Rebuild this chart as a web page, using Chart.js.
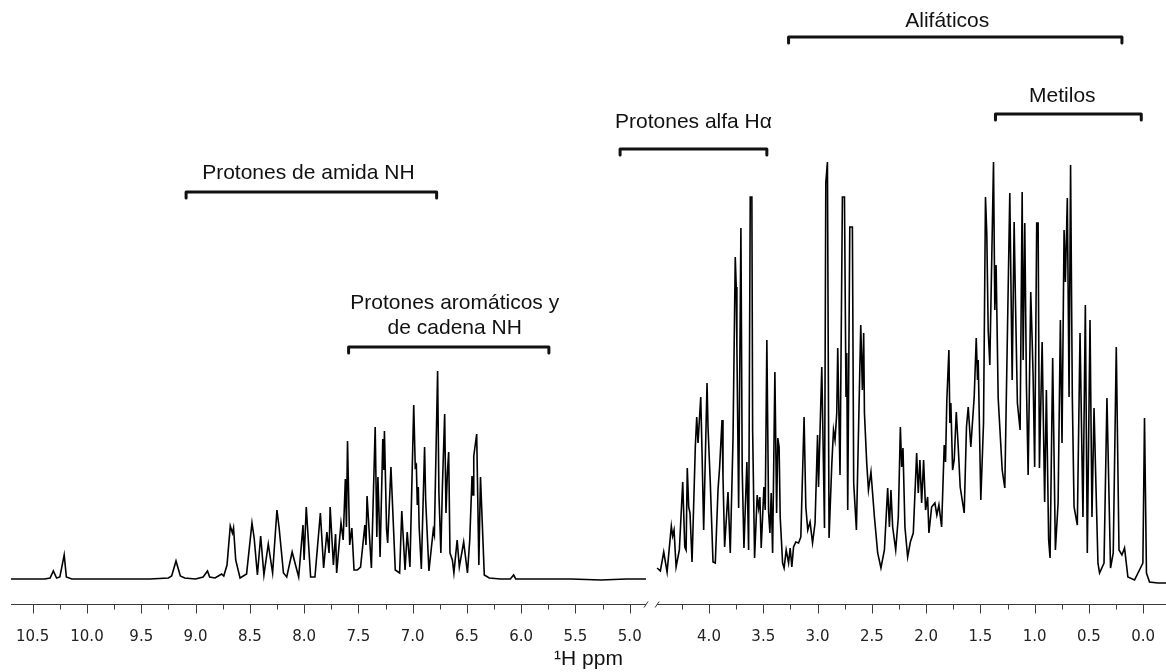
<!DOCTYPE html>
<html>
<head>
<meta charset="utf-8">
<script src="https://cdn.jsdelivr.net/npm/chart.js@4.4.1/dist/chart.umd.min.js"></script>
<style>
  html, body { margin: 0; background: #ffffff; }
  #wrap { width: 1166px; height: 672px; }
</style>
</head>
<body>
<div id="wrap"><canvas id="nmrChart"></canvas></div>
<script>
// low field part of the spectrum (left of the axis break), ppm / intensity
const lowFieldPpm = [
  10.70, 10.53, 10.39, 10.34, 10.31, 10.28, 10.25, 10.21, 10.19, 10.14, 9.97, 9.79, 9.60, 9.42,
  9.25, 9.22, 9.18, 9.14, 9.10, 9.00, 8.93, 8.89, 8.87, 8.82, 8.79, 8.76, 8.74, 8.71, 8.68, 8.66,
  8.65, 8.63, 8.59, 8.53, 8.48, 8.46, 8.43, 8.40, 8.37, 8.33, 8.29, 8.25, 8.23, 8.19, 8.16, 8.11,
  8.05, 8.01, 8.00, 7.98, 7.94, 7.90, 7.85, 7.82, 7.79, 7.77, 7.76, 7.73, 7.71, 7.70, 7.66, 7.64,
  7.62, 7.61, 7.60, 7.58, 7.56, 7.54, 7.51, 7.48, 7.44, 7.43, 7.42, 7.38, 7.345, 7.33, 7.32, 7.31,
  7.30, 7.275, 7.265, 7.26, 7.24, 7.23, 7.20, 7.16, 7.12, 7.10, 7.07, 7.05, 7.025, 6.99, 6.976,
  6.966, 6.957, 6.948, 6.94, 6.92, 6.89, 6.88, 6.85, 6.81, 6.80, 6.77, 6.758, 6.74, 6.726, 6.705,
  6.693, 6.68, 6.668, 6.656, 6.634, 6.62, 6.59, 6.57, 6.53, 6.495, 6.474, 6.453, 6.444, 6.437,
  6.41, 6.39, 6.375, 6.34, 6.294, 6.19, 6.10, 6.07, 6.05, 5.82, 5.54, 5.265, 5.03, 4.85
];
const lowFieldInt = [
  1, 1, 1, 2, 9, 2, 3, 25, 3, 1, 1, 1, 1, 1,
  2, 4, 19, 4, 2, 1, 3, 9, 3, 2, 4, 6, 4, 15, 54, 47,
  52, 20, 2, 6, 57, 42, 5, 44, 5, 36, 7, 70, 52, 7, 3, 28,
  3, 55, 20, 73, 3, 3, 67, 12, 48, 27, 73, 15, 46, 7, 57, 40,
  101, 53, 139, 35, 52, 10, 10, 13, 55, 35, 84, 12, 153, 43, 103, 67,
  23, 141, 110, 149, 50, 37, 113, 10, 7, 69, 10, 48, 13, 175, 113,
  115, 75, 93, 53, 11, 133, 80, 9, 50, 45, 209, 87, 27, 93, 166,
  67, 107, 128, 27, 20, 7, 40, 13, 38, 7, 40, 104, 85, 124,
  146, 15, 103, 5, 2, 1, 1, 5, 1, 1, 1, 0, 1, 1
];

// high field part of the spectrum (right of the axis break)
const highFieldPpm = [
  4.478, 4.448, 4.417, 4.386, 4.347, 4.335, 4.322, 4.303, 4.273, 4.242, 4.223, 4.211, 4.200, 4.187,
  4.175, 4.156, 4.126, 4.113, 4.101, 4.076, 4.064, 4.049, 4.018, 4.009, 3.988, 3.963, 3.942, 3.917,
  3.902, 3.880, 3.871, 3.856, 3.825, 3.804, 3.779, 3.758, 3.749, 3.743, 3.727, 3.706, 3.694, 3.678,
  3.651, 3.635, 3.620, 3.605, 3.598, 3.580, 3.556, 3.543, 3.531, 3.519, 3.494, 3.482, 3.467, 3.451,
  3.439, 3.427, 3.414, 3.393, 3.377, 3.366, 3.354, 3.344, 3.322, 3.308, 3.289, 3.267, 3.252, 3.237,
  3.221, 3.200, 3.175, 3.154, 3.124, 3.108, 3.090, 3.069, 3.046, 3.023, 3.000, 2.991, 2.961, 2.949,
  2.936, 2.924, 2.909, 2.894, 2.869, 2.853, 2.839, 2.823, 2.814, 2.793, 2.771, 2.752, 2.738, 2.731,
  2.722, 2.703, 2.679, 2.667, 2.642, 2.602, 2.587, 2.575, 2.568, 2.547, 2.531, 2.508, 2.476, 2.446,
  2.416, 2.384, 2.354, 2.338, 2.324, 2.308, 2.280, 2.256, 2.237, 2.225, 2.213, 2.195, 2.170, 2.145,
  2.118, 2.087, 2.072, 2.057, 2.041, 2.023, 2.005, 1.986, 1.974, 1.949, 1.919, 1.901, 1.882, 1.857,
  1.833, 1.821, 1.809, 1.790, 1.781, 1.772, 1.756, 1.741, 1.722, 1.704, 1.686, 1.649, 1.628, 1.612,
  1.588, 1.557, 1.538, 1.526, 1.520, 1.496, 1.471, 1.453, 1.441, 1.428, 1.413, 1.379, 1.367, 1.355,
  1.336, 1.299, 1.275, 1.229, 1.207, 1.189, 1.177, 1.159, 1.134, 1.115, 1.106, 1.091, 1.076, 1.060,
  1.036, 1.023, 1.014, 1.000, 0.981, 0.968, 0.956, 0.931, 0.908, 0.892, 0.871, 0.858, 0.834, 0.809,
  0.784, 0.763, 0.748, 0.729, 0.717, 0.699, 0.683, 0.669, 0.653, 0.637, 0.607, 0.582, 0.555, 0.533,
  0.515, 0.490, 0.472, 0.453, 0.435, 0.417, 0.402, 0.361, 0.334, 0.301, 0.276, 0.248, 0.223, 0.196,
  0.172, 0.141, 0.080, 0.003, -0.012, -0.030, -0.058, -0.135, -0.230
];
const highFieldInt = [
  12, 9, 28, 8, 54, 44, 50, 13, 30, 98, 33, 30, 112, 73,
  67, 18, 133, 163, 137, 183, 127, 50, 197, 153, 97, 18, 17, 90,
  113, 160, 103, 33, 88, 27, 140, 323, 293, 233, 72, 352, 110, 32,
  118, 30, 383, 383, 150, 22, 85, 72, 83, 32, 93, 70, 240, 68,
  47, 87, 27, 208, 67, 142, 133, 63, 17, 12, 30, 17, 32, 13,
  33, 38, 37, 43, 163, 73, 50, 58, 37, 57, 145, 93, 213, 137,
  52, 397, 418, 42, 115, 150, 140, 167, 232, 105, 383, 383, 183, 227,
  70, 353, 353, 97, 50, 255, 190, 247, 167, 117, 90, 108, 63, 27,
  12, 30, 92, 53, 90, 53, 30, 63, 153, 113, 132, 53, 23, 38,
  47, 127, 87, 120, 77, 120, 70, 83, 47, 73, 77, 65, 75, 53,
  135, 118, 180, 230, 157, 177, 110, 120, 168, 133, 93, 67, 153, 173,
  133, 183, 242, 200, 220, 80, 157, 383, 347, 250, 215, 418, 270, 315,
  182, 110, 92, 387, 200, 358, 280, 177, 150, 388, 220, 357, 197, 105,
  288, 240, 203, 113, 357, 357, 112, 238, 78, 190, 40, 22, 222, 30,
  77, 260, 137, 350, 298, 382, 183, 415, 183, 73, 55, 247, 63, 275,
  27, 260, 63, 172, 93, 17, 7, 17, 182, 12, 27, 233, 30, 25,
  32, 3, 0, 17, 162, 7, -2, -3, -3
];

// axis ticks
const majorTicks = [10.5, 10.0, 9.5, 9.0, 8.5, 8.0, 7.5, 7.0, 6.5, 6.0, 5.5, 5.0,
                    4.0, 3.5, 3.0, 2.5, 2.0, 1.5, 1.0, 0.5, 0.0];
const minorTicks = [10.25, 9.75, 9.25, 8.75, 8.25, 7.75, 7.25, 6.75, 6.25, 5.75, 5.25,
                    4.25, 3.75, 3.25, 2.75, 2.25, 1.75, 1.25, 0.75, 0.25];

// region brackets: ppm span, bracket y and text y in canvas px
const regions = [
  { lines: ["Protones de amida NH"], from: 9.087, to: 6.779, y: 192, textY: [173], dx: -3 },
  { lines: ["Protones aromáticos y", "de cadena NH"], from: 7.59, to: 5.745, y: 347, textY: [303, 328], dx: 6 },
  { lines: ["Protones alfa Hα"], from: 5.089, to: 3.467, y: 149, textY: [122], dx: 0 },
  { lines: ["Alifáticos"], from: 3.267, to: 0.196, y: 37, textY: [21], dx: -8 },
  { lines: ["Metilos"], from: 1.361, to: 0.018, y: 114, textY: [96], dx: -6 }
];

// the axis is cut between the two spectral windows
const BREAK_AT = 4.65;
const BREAK_SHIFT = 0.27;
const LOW_END = 4.85;
const HIGH_START = 4.478;

class BrokenLinearScale extends Chart.LinearScale {
  fold(v) {
    return v > BREAK_AT ? v - BREAK_SHIFT : v;
  }
  getPixelForValue(value) {
    const lo = this.fold(this.min), hi = this.fold(this.max);
    return this.getPixelForDecimal((this.fold(value) - lo) / (hi - lo));
  }
  getValueForPixel(pixel) {
    const lo = this.fold(this.min), hi = this.fold(this.max);
    const u = lo + this.getDecimalForPixel(pixel) * (hi - lo);
    return u > BREAK_AT - BREAK_SHIFT ? u + BREAK_SHIFT : u;
  }
}
BrokenLinearScale.id = "brokenLinear";
BrokenLinearScale.defaults = Chart.LinearScale.defaults;
Chart.register(BrokenLinearScale);

const allTicks = majorTicks.concat(minorTicks).sort((a, b) => b - a);

const axisAndLabels = {
  id: "axisAndLabels",
  afterDraw(chart) {
    const ctx = chart.ctx;
    const xs = chart.scales.x;
    const area = chart.chartArea;
    const yb = Math.round(area.bottom) + 0.5;
    ctx.save();

    // broken axis line
    ctx.strokeStyle = "#3a3a3a";
    ctx.lineWidth = 1;
    const xl = xs.getPixelForValue(LOW_END);
    const xr = xs.getPixelForValue(HIGH_START);
    ctx.beginPath();
    ctx.moveTo(area.left, yb);
    ctx.lineTo(xl, yb);
    ctx.moveTo(xr, yb);
    ctx.lineTo(area.right, yb);
    ctx.moveTo(xl - 2, yb + 3);
    ctx.lineTo(xl + 2, yb - 3);
    ctx.moveTo(xr - 2, yb + 3);
    ctx.lineTo(xr + 2, yb - 3);
    ctx.stroke();

    // tick marks
    ctx.beginPath();
    allTicks.forEach(v => {
      const x = Math.round(xs.getPixelForValue(v)) + 0.5;
      const len = majorTicks.includes(v) ? 9 : 5;
      ctx.moveTo(x, yb);
      ctx.lineTo(x, yb + len);
    });
    ctx.stroke();

    // region brackets
    ctx.strokeStyle = "#111111";
    ctx.fillStyle = "#111111";
    ctx.lineWidth = 3;
    ctx.lineJoin = "round";
    ctx.lineCap = "round";
    ctx.font = '21px "Liberation Sans", Arial, sans-serif';
    ctx.textAlign = "center";
    ctx.textBaseline = "middle";
    regions.forEach(r => {
      const x1 = xs.getPixelForValue(r.from);
      const x2 = xs.getPixelForValue(r.to);
      ctx.beginPath();
      ctx.moveTo(x1, r.y + 6);
      ctx.lineTo(x1, r.y);
      ctx.lineTo(x2, r.y);
      ctx.lineTo(x2, r.y + 6);
      ctx.stroke();
      r.lines.forEach((t, i) => {
        ctx.fillText(t, (x1 + x2) / 2 + r.dx, r.textY[i]);
      });
    });
    ctx.restore();
  }
};

const toPoints = (xs, ys) => xs.map((x, i) => ({ x: x, y: ys[i] }));

const ctx = document.getElementById("nmrChart").getContext("2d");

const nmrChart = new Chart(ctx, {
  type: "line",
  data: {
    datasets: [
      {
        label: "low field",
        data: toPoints(lowFieldPpm, lowFieldInt),
        borderColor: "#000000",
        borderWidth: 1.6,
        pointRadius: 0,
        tension: 0,
        fill: false,
      },
      {
        label: "high field",
        data: toPoints(highFieldPpm, highFieldInt),
        borderColor: "#000000",
        borderWidth: 1.6,
        pointRadius: 0,
        tension: 0,
        fill: false,
      },
    ],
  },
  options: {
    responsive: true,
    maintainAspectRatio: false,
    animation: false,
    layout: {
      padding: { left: 11, right: 0, top: 10, bottom: 0 },
    },
    scales: {
      x: {
        type: "brokenLinear",
        reverse: true,
        min: -0.21,
        max: 10.7,
        grid: { display: false, drawTicks: false },
        border: { display: false },
        afterBuildTicks: (scale) => {
          scale.ticks = allTicks.map(v => ({ value: v }));
        },
        afterFit: (scale) => {
          scale.height = 68;
          scale.paddingLeft = 0;
          scale.paddingRight = 0;
        },
        ticks: {
          autoSkip: false,
          maxRotation: 0,
          padding: 24,
          color: "#222222",
          font: { family: '"DejaVu Sans", sans-serif', size: 15 },
          callback: (value) => (majorTicks.includes(value) ? value.toFixed(1) : ""),
        },
        title: {
          display: true,
          text: "¹H ppm",
          color: "#111111",
          padding: { top: 3, bottom: 0 },
          font: { family: '"Liberation Sans", Arial, sans-serif', size: 21 },
        },
      },
      y: {
        display: false,
        min: -24,
        max: 570,
      },
    },
    plugins: {
      legend: { display: false },
      tooltip: { enabled: false },
    },
  },
  plugins: [axisAndLabels],
});
</script>
</body>
</html>
